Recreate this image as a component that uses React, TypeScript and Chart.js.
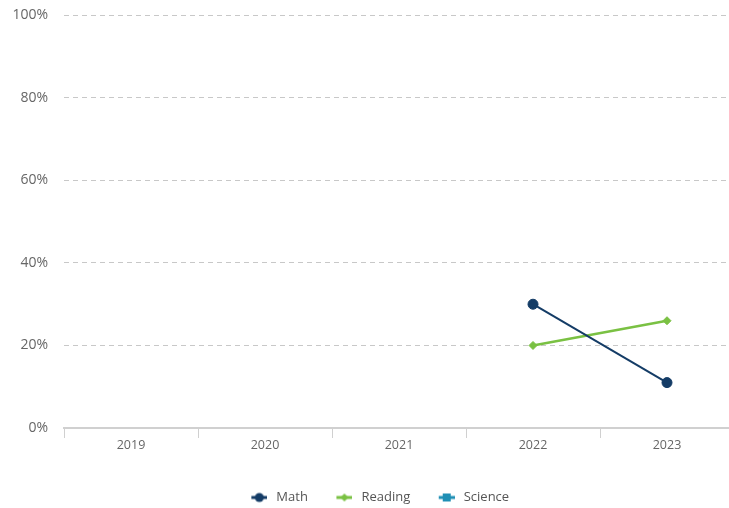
import React, { useEffect, useRef } from "react";
import { Chart, registerables } from "chart.js";

Chart.register(...registerables);

const years = ["2019", "2020", "2021", "2022", "2023"];
const mathValues = [null, null, null, 30, 11];
const readingValues = [null, null, null, 20, 26];
const scienceValues = [null, null, null, null, null];
const yTicks = [0, 20, 40, 60, 80, 100];

const MATH = "#143c66";
const READING = "#7ac143";
const SCIENCE = "#1f8fb5";

const ICON_W = 34;

function legendIcon(color: string, style: string): HTMLCanvasElement {
  const c = document.createElement("canvas");
  c.width = ICON_W;
  c.height = 12;
  const ctx = c.getContext("2d")!;
  const o = ICON_W - 16;
  ctx.strokeStyle = color;
  ctx.fillStyle = color;
  ctx.lineWidth = 3;
  ctx.beginPath();
  ctx.moveTo(o, 6);
  ctx.lineTo(o + 16, 6);
  ctx.stroke();
  ctx.beginPath();
  if (style === "circle") {
    ctx.arc(o + 8, 6, 4.5, 0, Math.PI * 2);
  } else if (style === "diamond") {
    ctx.moveTo(o + 8, 2);
    ctx.lineTo(o + 12, 6);
    ctx.lineTo(o + 8, 10);
    ctx.lineTo(o + 4, 6);
    ctx.closePath();
  } else {
    ctx.rect(o + 4, 2, 8, 8);
  }
  ctx.fill();
  return c;
}

export default function App() {
  const ref = useRef<HTMLCanvasElement | null>(null);
  useEffect(() => {
    if (!ref.current) return;
    const icons = [
      legendIcon(MATH, "circle"),
      legendIcon(READING, "diamond"),
      legendIcon(SCIENCE, "square"),
    ];
    const chart = new Chart(ref.current, {
      type: "line",
      data: {
        labels: years,
        datasets: [
          {
            label: "Math",
            data: mathValues,
            borderColor: MATH,
            backgroundColor: MATH,
            pointStyle: "circle",
            pointRadius: 5,
            pointBorderWidth: 1,
            borderWidth: 2,
          },
          {
            label: "Reading",
            data: readingValues,
            borderColor: READING,
            backgroundColor: READING,
            pointStyle: "rectRot",
            pointRadius: 4,
            pointBorderWidth: 1,
            borderWidth: 2.5,
          },
          {
            label: "Science",
            data: scienceValues,
            borderColor: SCIENCE,
            backgroundColor: SCIENCE,
            pointStyle: "rect",
            pointRadius: 4,
            borderWidth: 2,
          },
        ],
      },
      options: {
        animation: false,
        responsive: false,
        layout: { padding: { top: 0, right: 0, left: 0, bottom: 0 } },
        plugins: {
          tooltip: { enabled: false },
          legend: {
            position: "bottom",
            labels: {
              usePointStyle: true,
              pointStyleWidth: 39,
              boxHeight: 12,
              padding: 8,
              color: "#555",
              font: { family: "Open Sans", size: 13 },
              generateLabels: (ch: any) =>
                ch.data.datasets.map((ds: any, i: number) => ({
                  text: ds.label,
                  fillStyle: ds.backgroundColor,
                  strokeStyle: ds.borderColor,
                  lineWidth: 0,
                  pointStyle: icons[i],
                  hidden: false,
                  datasetIndex: i,
                  fontColor: "#555",
                })),
            },
          },
        },
        scales: {
          x: {
            offset: true,
            afterFit: (axis: any) => {
              axis.height = 55;
            },
            grid: {
              offset: true,
              drawOnChartArea: false,
              drawTicks: true,
              tickLength: 10,
              color: "#d0d0d0",
            },
            border: { color: "#d0d0d0", width: 2 },
            ticks: {
              color: "#666",
              font: { family: "Open Sans", size: 12.5 },
              padding: 0,
            },
          },
          y: {
            min: 0,
            max: 100,
            afterBuildTicks: (axis: any) => {
              axis.ticks = yTicks.map((v) => ({ value: v }));
            },
            afterFit: (axis: any) => {
              axis.width = 64;
            },
            grid: {
              drawTicks: false,
              color: (ctx: any) =>
                ctx.tick && ctx.tick.value === 0 ? "rgba(0,0,0,0)" : "#c8c8c8",
              lineWidth: 1,
            },
            border: { display: false, dash: [5, 4] },
            ticks: {
              color: "#666",
              padding: 16,
              font: { family: "Open Sans", size: 14 },
              callback: (v: any) => v + "%",
            },
          },
        },
      },
    });
    return () => chart.destroy();
  }, []);
  return (
    <div style={{ position: "absolute", left: 0, top: 0, width: 729, height: 508, overflow: "hidden", background: "#fff" }}>
      <canvas
        ref={ref}
        width={740}
        height={523}
        style={{ position: "absolute", left: 0, top: -9 }}
      />
    </div>
  );
}
